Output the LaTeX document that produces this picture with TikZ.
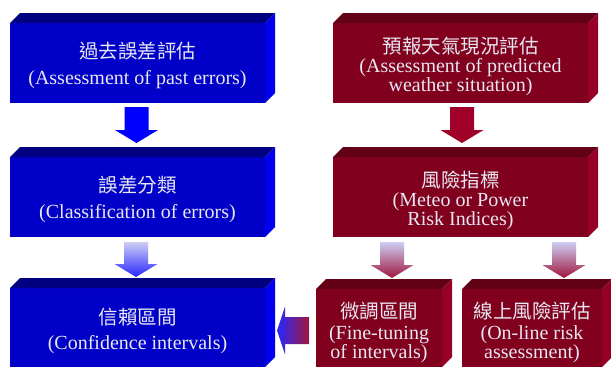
\documentclass[tikz,border=0pt]{standalone}
\usepackage{fontspec}
\setmainfont{Liberation Serif}
\newfontfamily\cjk{Noto Sans CJK TC}
\usetikzlibrary{calc}

\definecolor{bluefront}{RGB}{0,0,200}
\definecolor{bluetop}{RGB}{0,0,128}
\definecolor{blueside}{RGB}{0,0,235}
\definecolor{redfront}{RGB}{128,0,30}
\definecolor{redtop}{RGB}{98,0,22}
\definecolor{redside}{RGB}{150,0,38}
\definecolor{txtcol}{RGB}{232,232,242}
\definecolor{arrowblue}{RGB}{0,0,255}
\definecolor{arrowred}{RGB}{160,0,40}
\definecolor{lavender}{RGB}{206,206,244}
\definecolor{gradblue}{RGB}{40,40,255}
\definecolor{gradred}{RGB}{160,22,62}

\tikzset{
  facebox/.style={rectangle, inner sep=0pt, outer sep=0pt},
  bluebox/.style={facebox, fill=bluefront},
  redbox/.style={facebox, fill=redfront},
  zh/.style={font=\cjk\fontsize{19.5}{19.5}\selectfont, text=txtcol, anchor=base, inner sep=0pt},
  en/.style={font=\fontsize{20}{20}\selectfont, text=txtcol, anchor=base, inner sep=0pt},
}

% top and right faces of a box whose front face is node #1
\newcommand\boxfaces[3]{%
  \fill[#2] (#1.north west) -- ++(10,-10) -- ($(#1.north east)+(10,-10)$) -- (#1.north east) -- cycle;
  \fill[#3] (#1.north east) -- ++(10,-10) -- ($(#1.south east)+(10,-10)$) -- (#1.south east) -- cycle;}

% block arrow pointing down from #1 to the tip #2
\newcommand\downblock[3]{%
  \path[#3] let \p1=(#1), \p2=(#2) in
    (\x1-12pt,\y1) -- (\x1+12pt,\y1) -- (\x1+12pt,\y2+13pt) -- (\x1+21.5pt,\y2+13pt)
    -- (\x1,\y2) -- (\x1-21.5pt,\y2+13pt) -- (\x1-12pt,\y2+13pt) -- cycle;}

% block arrow pointing left from #1 to the tip #2
\newcommand\leftblock[3]{%
  \path[#3] let \p1=(#1), \p2=(#2) in
    (\x1,\y1+13.5pt) -- (\x1,\y1-13.5pt) -- (\x2+8pt,\y1-13.5pt) -- (\x2+8pt,\y1-24pt)
    -- (\x2,\y1) -- (\x2+8pt,\y1+24pt) -- (\x2+8pt,\y1+13.5pt) -- cycle;}

\begin{document}
\begin{tikzpicture}[x=1pt,y=-1pt]
\useasboundingbox (0,0) rectangle (611,367);
\fill[white] (0,0) rectangle (611,367);

% front faces
\node[bluebox, minimum width=255pt, minimum height=80pt] (b1) at (137.5,63) {};
\node[redbox,  minimum width=255pt, minimum height=80pt] (b2) at (460.5,63) {};
\node[bluebox, minimum width=255pt, minimum height=80pt] (b3) at (137.5,197) {};
\node[redbox,  minimum width=255pt, minimum height=80pt] (b4) at (460.5,197) {};
\node[bluebox, minimum width=255pt, minimum height=79pt] (b5) at (137.5,327.5) {};
\node[redbox,  minimum width=126pt, minimum height=78pt] (b6) at (379,328) {};
\node[redbox,  minimum width=140pt, minimum height=78pt] (b7) at (532,328) {};

\boxfaces{b1}{bluetop}{blueside}
\boxfaces{b2}{redtop}{redside}
\boxfaces{b3}{bluetop}{blueside}
\boxfaces{b4}{redtop}{redside}
\boxfaces{b5}{bluetop}{blueside}
\boxfaces{b6}{redtop}{redside}
\boxfaces{b7}{redtop}{redside}

% labels
\node[zh] (t1a) at ($(b1.north)+(0,35.5)$) {過去誤差評估};
\node[en] (t1b) at ($(b1.north)+(0,61)$) {(Assessment of past errors)};

\node[zh] (t2a) at ($(b2.north)+(0,30)$) {預報天氣現況評估};
\node[en] (t2b) at ($(b2.north)+(0,49.5)$) {(Assessment of predicted};
\node[en] (t2c) at ($(b2.north)+(0,68)$) {weather situation)};

\node[zh] (t3a) at ($(b3.north)+(0,35)$) {誤差分類};
\node[en] (t3b) at ($(b3.north)+(0,61)$) {(Classification of errors)};

\node[zh] (t4a) at ($(b4.north)+(0,30)$) {風險指標};
\node[en] (t4b) at ($(b4.north)+(0,49.5)$) {(Meteo or Power};
\node[en] (t4c) at ($(b4.north)+(0,68)$) {Risk Indices)};

\node[zh] (t5a) at ($(b5.north)+(0,36)$) {信賴區間};
\node[en] (t5b) at ($(b5.north)+(0,61)$) {(Confidence intervals)};

\node[zh] (t6a) at ($(b6.north)+(0,29.5)$) {微調區間};
\node[en] (t6b) at ($(b6.north)+(0,50)$) {(Fine-tuning};
\node[en] (t6c) at ($(b6.north)+(0,69.5)$) {of intervals)};

\node[zh] (t7a) at ($(b7.north)+(0,29.5)$) {線上風險評估};
\node[en] (t7b) at ($(b7.north)+(0,50)$) {(On-line risk};
\node[en] (t7c) at ($(b7.north)+(0,69.5)$) {assessment)};

% connectors
\downblock{$(b1.south)+(-1,4)$}{$(b3.north)+(-1,-14)$}{fill=arrowblue}
\downblock{$(b2.south)+(1.5,4)$}{$(b4.north)+(1.5,-14)$}{fill=arrowred}
\downblock{$(b3.south)+(-1.5,5)$}{$(b5.north)+(-1.5,-11)$}{top color=lavender, bottom color=gradblue}
\downblock{$(b4.south)+(-68.5,5)$}{$(b6.north)+(13,-11)$}{top color=lavender, bottom color=gradred}
\downblock{$(b4.south)+(103.5,5)$}{$(b7.north)+(32,-11)$}{top color=lavender, bottom color=gradred}
\leftblock{$(b6.west)+(-7,2.5)$}{$(b5.east)+(12,3.5)$}{left color=gradblue, right color=gradred}
\end{tikzpicture}
\end{document}
